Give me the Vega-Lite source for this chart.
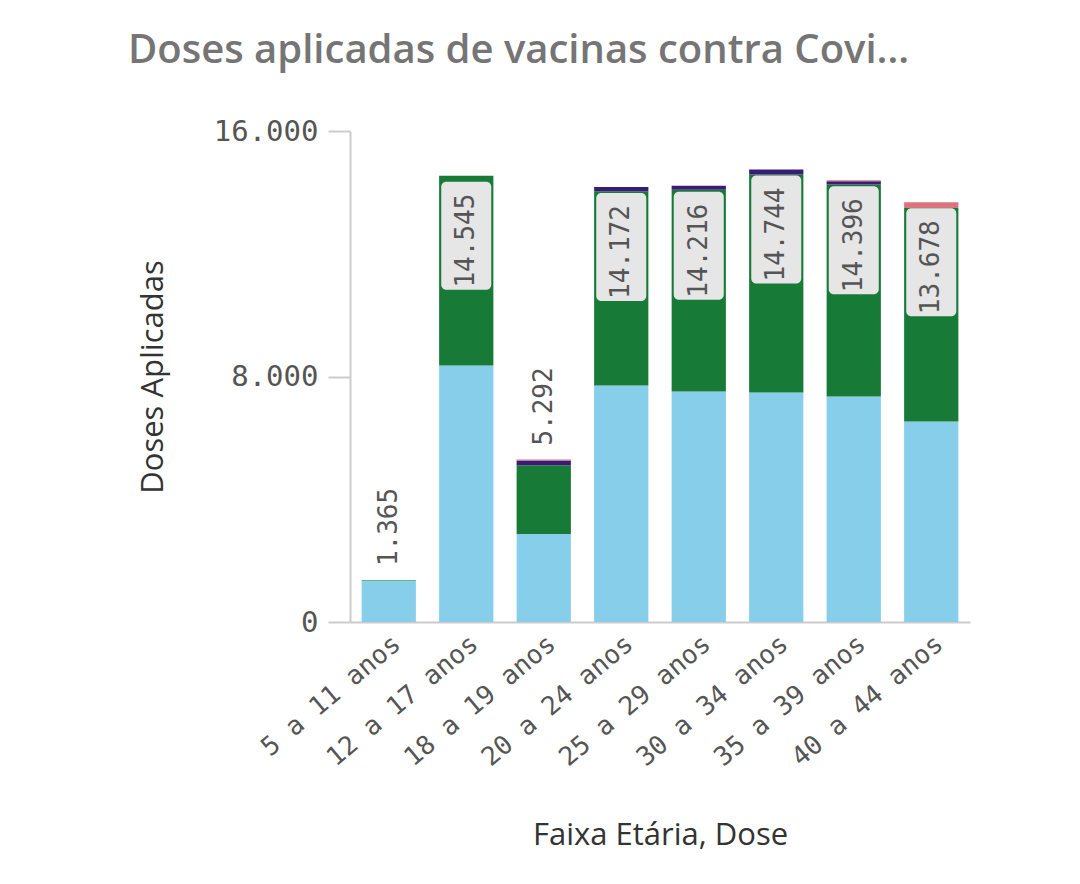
{
  "$schema": "https://vega.github.io/schema/vega-lite/v6.json",
  "autosize": {"type": "none"},
  "padding": {"left": 350, "top": 131, "right": 110, "bottom": 262},
  "width": 620,
  "height": 491,
  "background": "#ffffff",
  "title": {
    "text": "Doses aplicadas de vacinas contra Covi…",
    "anchor": "start",
    "frame": "group",
    "dx": -222,
    "offset": 46,
    "font": "Open Sans",
    "fontSize": 40,
    "fontWeight": 600,
    "color": "#757575"
  },
  "data": {
    "values": [
      {"Faixa": "5 a 11 anos", "Dose": "1ª Dose", "Doses": 1350},
      {"Faixa": "5 a 11 anos", "Dose": "2ª Dose", "Doses": 15},
      {"Faixa": "12 a 17 anos", "Dose": "1ª Dose", "Doses": 8360},
      {"Faixa": "12 a 17 anos", "Dose": "2ª Dose", "Doses": 6185},
      {"Faixa": "18 a 19 anos", "Dose": "1ª Dose", "Doses": 2870},
      {"Faixa": "18 a 19 anos", "Dose": "2ª Dose", "Doses": 2235},
      {"Faixa": "18 a 19 anos", "Dose": "3ª Dose", "Doses": 160},
      {"Faixa": "18 a 19 anos", "Dose": "Dose Única", "Doses": 27},
      {"Faixa": "20 a 24 anos", "Dose": "1ª Dose", "Doses": 7710},
      {"Faixa": "20 a 24 anos", "Dose": "2ª Dose", "Doses": 6330},
      {"Faixa": "20 a 24 anos", "Dose": "3ª Dose", "Doses": 132},
      {"Faixa": "25 a 29 anos", "Dose": "1ª Dose", "Doses": 7510},
      {"Faixa": "25 a 29 anos", "Dose": "2ª Dose", "Doses": 6576},
      {"Faixa": "25 a 29 anos", "Dose": "3ª Dose", "Doses": 130},
      {"Faixa": "30 a 34 anos", "Dose": "1ª Dose", "Doses": 7480},
      {"Faixa": "30 a 34 anos", "Dose": "2ª Dose", "Doses": 7100},
      {"Faixa": "30 a 34 anos", "Dose": "3ª Dose", "Doses": 164},
      {"Faixa": "35 a 39 anos", "Dose": "1ª Dose", "Doses": 7350},
      {"Faixa": "35 a 39 anos", "Dose": "2ª Dose", "Doses": 6910},
      {"Faixa": "35 a 39 anos", "Dose": "3ª Dose", "Doses": 106},
      {"Faixa": "35 a 39 anos", "Dose": "Dose Única", "Doses": 30},
      {"Faixa": "40 a 44 anos", "Dose": "1ª Dose", "Doses": 6530},
      {"Faixa": "40 a 44 anos", "Dose": "2ª Dose", "Doses": 6960},
      {"Faixa": "40 a 44 anos", "Dose": "Dose Única", "Doses": 188}
    ]
  },
  "encoding": {
    "x": {
      "field": "Faixa",
      "type": "nominal",
      "sort": null,
      "scale": {"paddingInner": 0.3, "paddingOuter": 0.15},
      "axis": {
        "title": "Faixa Etária, Dose",
        "labelAngle": -40,
        "labelFontSize": 26,
        "labelPadding": 8,
        "labelLimit": 400,
        "ticks": false,
        "titleFont": "Open Sans",
        "titleFontSize": 31,
        "titleFontWeight": "normal",
        "titleColor": "#333333",
        "titlePadding": 50
      }
    }
  },
  "layer": [
    {
      "mark": {"type": "bar"},
      "encoding": {
        "y": {
          "aggregate": "sum",
          "field": "Doses",
          "type": "quantitative",
          "scale": {"domain": [0, 16000]},
          "axis": {
            "title": "Doses Aplicadas",
            "values": [0, 8000, 16000],
            "format": ",d",
            "grid": false,
            "tickSize": 22,
            "labelPadding": 10,
            "labelFontSize": 29,
            "titleFont": "Open Sans",
            "titleFontSize": 31,
            "titleFontWeight": "normal",
            "titleColor": "#333333",
            "titlePadding": 44
          }
        },
        "color": {
          "field": "Dose",
          "type": "nominal",
          "scale": {
            "domain": ["1ª Dose", "2ª Dose", "3ª Dose", "Dose Única"],
            "range": ["#87ceeb", "#177a37", "#3a1c78", "#dc7480"]
          },
          "legend": null
        },
        "order": {"field": "Dose", "sort": "ascending"}
      }
    },
    {
      "transform": [
        {"aggregate": [{"op": "sum", "field": "Doses", "as": "Total"}], "groupby": ["Faixa"]},
        {"filter": "datum.Total >= 8000"}
      ],
      "mark": {
        "type": "tick",
        "orient": "vertical",
        "size": 108,
        "thickness": 50,
        "yOffset": 60,
        "cornerRadius": 5,
        "color": "#e6e6e6",
        "opacity": 1
      },
      "encoding": {
        "y": {"field": "Total", "type": "quantitative"}
      }
    },
    {
      "transform": [
        {"aggregate": [{"op": "sum", "field": "Doses", "as": "Total"}], "groupby": ["Faixa"]},
        {"filter": "datum.Total >= 8000"}
      ],
      "mark": {
        "type": "text",
        "angle": 270,
        "align": "right",
        "baseline": "middle",
        "dx": -18,
        "font": "DejaVu Sans Mono",
        "fontSize": 26,
        "color": "#555555"
      },
      "encoding": {
        "y": {"field": "Total", "type": "quantitative"},
        "text": {"field": "Total", "type": "quantitative", "format": ",d"}
      }
    },
    {
      "transform": [
        {"aggregate": [{"op": "sum", "field": "Doses", "as": "Total"}], "groupby": ["Faixa"]},
        {"filter": "datum.Total < 8000"}
      ],
      "mark": {
        "type": "text",
        "angle": 270,
        "align": "left",
        "baseline": "middle",
        "dx": 14,
        "font": "DejaVu Sans Mono",
        "fontSize": 26,
        "color": "#555555"
      },
      "encoding": {
        "y": {"field": "Total", "type": "quantitative"},
        "text": {"field": "Total", "type": "quantitative", "format": ",d"}
      }
    }
  ],
  "config": {
    "locale": {
      "number": {"decimal": ",", "thousands": ".", "grouping": [3], "currency": ["R$", ""]}
    },
    "view": {"stroke": null},
    "axis": {
      "labelFont": "DejaVu Sans Mono",
      "labelColor": "#555555",
      "domainColor": "#cccccc",
      "domainWidth": 2,
      "tickColor": "#cccccc",
      "tickWidth": 2
    }
  }
}
